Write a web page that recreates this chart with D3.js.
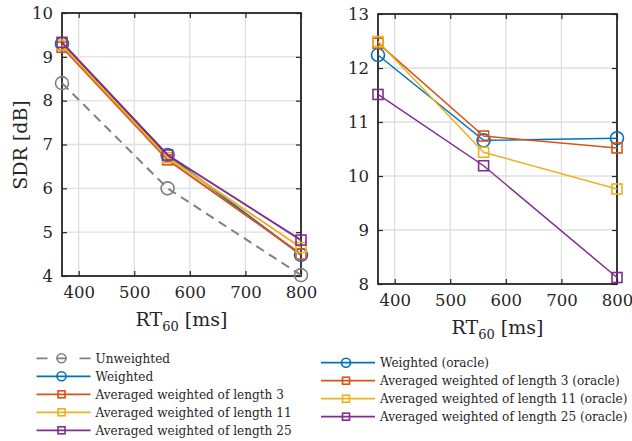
<!DOCTYPE html>
<html lang="en">
<head>
<meta charset="UTF-8">
<title>SDR vs RT60</title>
<script src="https://d3js.org/d3.v7.min.js"></script>
<style>
  body { margin: 0; background: #fff; }
</style>
</head>
<body>
<script>
// data
var rt60 = [370, 560, 800];
var xTicks = [400, 500, 600, 700, 800];

var leftNames = ["Unweighted", "Weighted", "Averaged weighted of length 3",
                 "Averaged weighted of length 11", "Averaged weighted of length 25"];
var unweighted = [8.4, 6.0, 4.02];
var weighted = [9.3, 6.76, 4.48];
var avg3 = [9.22, 6.65, 4.5];
var avg11 = [9.27, 6.7, 4.65];
var avg25 = [9.33, 6.76, 4.82];

var rightNames = ["Weighted (oracle)", "Averaged weighted of length 3 (oracle)",
                  "Averaged weighted of length 11 (oracle)", "Averaged weighted of length 25 (oracle)"];
var weightedOr = [12.24, 10.66, 10.7];
var avg3Or = [12.46, 10.74, 10.52];
var avg11Or = [12.49, 10.44, 9.76];
var avg25Or = [11.51, 10.19, 8.12];

var leftTicksY = [4, 5, 6, 7, 8, 9, 10];
var rightTicksY = [8, 9, 10, 11, 12, 13];

var blue = "#0072BD", orange = "#D95319", yellow = "#EDB120", purple = "#7E2F8E", gray = "#808080";
var serif = '"DejaVu Serif", "Liberation Serif", "Noto Serif", serif';

var leftSeries = [
  {vals: unweighted, color: gray, mark: "circle", dash: "9,6"},
  {vals: weighted, color: blue, mark: "circle"},
  {vals: avg3, color: orange, mark: "square"},
  {vals: avg11, color: yellow, mark: "square"},
  {vals: avg25, color: purple, mark: "square"}
];
var rightSeries = [
  {vals: weightedOr, color: blue, mark: "circle"},
  {vals: avg3Or, color: orange, mark: "square"},
  {vals: avg11Or, color: yellow, mark: "square"},
  {vals: avg25Or, color: purple, mark: "square"}
];

var svg = d3.select("body").append("svg")
  .attr("width", 632).attr("height", 441)
  .style("font-family", serif);

function drawMarker(g, kind, cx, cy, color, size) {
  if (kind == "circle") {
    g.append("circle").attr("cx", cx).attr("cy", cy).attr("r", size / 2)
      .attr("fill", "none").attr("stroke", color).attr("stroke-width", 1.6);
  } else {
    g.append("rect").attr("x", cx - size / 2).attr("y", cy - size / 2)
      .attr("width", size).attr("height", size)
      .attr("fill", "none").attr("stroke", color).attr("stroke-width", 1.6);
  }
}

function panel(box, yDomain, yTicks, series, lw) {
  var x = d3.scaleLinear().domain([370, 800]).range([box.l, box.r]);
  var y = d3.scaleLinear().domain(yDomain).range([box.b, box.t]);
  var g = svg.append("g");

  // grid
  g.selectAll(".gx").data(xTicks).enter().append("line")
    .attr("x1", function(d) { return x(d); }).attr("x2", function(d) { return x(d); })
    .attr("y1", box.t).attr("y2", box.b)
    .attr("stroke", "#dfdfdf").attr("stroke-width", 1.3);
  g.selectAll(".gy").data(yTicks).enter().append("line")
    .attr("y1", function(d) { return y(d); }).attr("y2", function(d) { return y(d); })
    .attr("x1", box.l).attr("x2", box.r)
    .attr("stroke", "#dfdfdf").attr("stroke-width", 1.3);

  // axes with inward ticks on all four sides
  var fmt = d3.format("d");
  var ax = g.append("g").attr("transform", "translate(0," + box.b + ")")
    .call(d3.axisBottom(x).tickValues(xTicks).tickFormat(fmt).tickSizeInner(-5).tickSizeOuter(0).tickPadding(10));
  var axTop = g.append("g").attr("transform", "translate(0," + box.t + ")")
    .call(d3.axisTop(x).tickValues(xTicks).tickSizeInner(-5).tickSizeOuter(0).tickFormat(""));
  var ay = g.append("g").attr("transform", "translate(" + box.l + ",0)")
    .call(d3.axisLeft(y).tickValues(yTicks).tickFormat(fmt).tickSizeInner(-5).tickSizeOuter(0).tickPadding(9));
  var ayR = g.append("g").attr("transform", "translate(" + box.r + ",0)")
    .call(d3.axisRight(y).tickValues(yTicks).tickSizeInner(-5).tickSizeOuter(0).tickFormat(""));
  [ax, axTop, ay, ayR].forEach(function(a) {
    a.attr("font-family", null).attr("font-size", null);
    a.select(".domain").remove();
    a.selectAll("line").attr("stroke", "#262626").attr("stroke-width", 1.2);
    a.selectAll("text").attr("fill", "#262626")
      .style("font-size", "16.5px").style("font-family", serif);
  });
  g.append("rect").attr("x", box.l).attr("y", box.t)
    .attr("width", box.r - box.l).attr("height", box.b - box.t)
    .attr("fill", "none").attr("stroke", "#262626").attr("stroke-width", 1.8);

  var line = d3.line()
    .x(function(d, i) { return x(rt60[i]); })
    .y(function(d) { return y(d); });

  series.forEach(function(s) {
    g.append("path").datum(s.vals).attr("d", line)
      .attr("fill", "none").attr("stroke", s.color).attr("stroke-width", lw)
      .attr("stroke-dasharray", s.dash || null);
    s.vals.forEach(function(v, i) {
      drawMarker(g, s.mark, x(rt60[i]), y(v), s.color, s.mark == "circle" ? 13 : 10);
    });
  });

  // x label with subscript
  var xl = g.append("text").attr("x", (box.l + box.r) / 2).attr("y", box.b + 50)
    .attr("text-anchor", "middle").attr("fill", "#262626").style("font-size", "19px");
  xl.append("tspan").text("RT");
  xl.append("tspan").text("60").attr("dy", 5).style("font-size", "13px");
  xl.append("tspan").text(" [ms]").attr("dy", -5);
}

panel({l: 62, r: 301, t: 13, b: 276}, [4, 10], leftTicksY, leftSeries, 2);
panel({l: 378, r: 617, t: 14, b: 284}, [8, 13], rightTicksY, rightSeries, 1.5);

svg.append("text").attr("transform", "translate(27,145) rotate(-90)")
  .attr("text-anchor", "middle").attr("fill", "#262626").style("font-size", "19px").text("SDR [dB]");

// legends
function legend(x0, y0, names, series) {
  var lg = svg.append("g");
  names.forEach(function(n, i) {
    var s = series[i];
    var yy = y0 + i * 18;
    lg.append("line").attr("x1", x0).attr("x2", x0 + 54).attr("y1", yy).attr("y2", yy)
      .attr("stroke", s.color).attr("stroke-width", 1.8)
      .attr("stroke-dasharray", s.dash ? "11,9,10,13,11" : null);
    drawMarker(lg, s.mark, x0 + 25, yy, s.color, s.mark == "circle" ? 9 : 7);
    lg.append("text").attr("transform", "translate(" + (x0 + 59) + "," + (yy + 4.5) + ") scale(0.93,1)")
      .attr("fill", "#262626").style("font-size", "13px").text(n);
  });
}
legend(36.5, 358.3, leftNames, leftSeries);
legend(321, 362.7, rightNames, rightSeries);
</script>
</body>
</html>
